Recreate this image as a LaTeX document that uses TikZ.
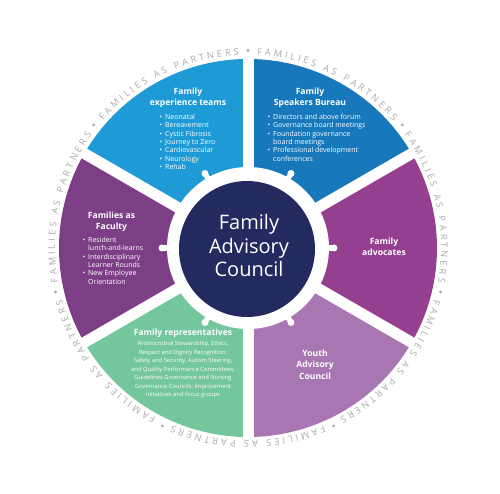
\documentclass[tikz,border=0pt]{standalone}
\usepackage{fontspec}
\setmainfont{Open Sans}
\usetikzlibrary{decorations.text}
\definecolor{expblue}{HTML}{1E9BD7}
\definecolor{spkblue}{HTML}{1878BC}
\definecolor{advpurple}{HTML}{953F91}
\definecolor{youthlilac}{HTML}{A776B3}
\definecolor{repgreen}{HTML}{74C69C}
\definecolor{facpurple}{HTML}{7C3F86}
\definecolor{councilnavy}{HTML}{232A5F}
\definecolor{ringgray}{HTML}{ABABAB}
\newcommand\ringfont{\fontsize{9.3}{10}\selectfont}
\newcommand\blt{\makebox[5.5pt][l]{\textbullet}}
\newcommand\bltgap{\hspace*{5.5pt}}
\tikzset{
  segtitle/.style={text=white,font=\bfseries\fontsize{8.6}{10.6}\selectfont,align=center,inner sep=0pt},
  seglist/.style={text=white,font=\fontsize{7}{8.3}\selectfont,align=left,anchor=north west,inner sep=0pt}
}
\begin{document}
\begin{tikzpicture}[x=1pt,y=1pt]
  \path[use as bounding box,fill=white] (-248,-246) rectangle (252,248);
  % wheel segments
  \foreach \s/\e/\col in {90/150/expblue, 30/90/spkblue, -30/30/advpurple, -90/-30/youthlilac, 210/270/repgreen, 150/210/facpurple} {
    \fill[\col] (0,0) -- (\s:189) arc[start angle=\s,end angle=\e,radius=189] -- cycle;
  }
  \foreach \a in {30,90,...,330} \draw[white,line width=11pt] (0,0) -- (\a:196);
  \fill[white] (0,0) circle[radius=81];
  \foreach \a in {0,60,...,300} {
    \fill[white,rotate=\a] (76,-2.6) rectangle (86,2.6);
    \fill[white] (\a:86) circle[radius=3.5];
  }
  \fill[councilnavy] (-1,-1) circle[radius=68];
  \node[text=white,font=\fontsize{20}{23.5}\selectfont,align=center] (council) at (1,2) {Family\\Advisory\\Council};
  % outer ring text
  \foreach \k in {0,...,6} {
    \pgfmathsetmacro\ta{90-\k*360/7}
    \pgfmathsetmacro\tb{\ta-360/7}
    \fill[ringgray] (\ta:197.5) circle[radius=1.6];
    \path[decorate,decoration={text along path,text color=ringgray,text={|\ringfont|FAMILIES AS PARTNERS},
      text align={fit to path,left indent=9pt,right indent=9pt}}] (\ta:193) arc[start angle=\ta,end angle=\tb,radius=193];
  }
  % segment texts
  \node[segtitle] (expTitle) at (-60,150) {Family\\experience teams};
  \node[seglist] (expList) at (-88.5,134) {\blt Neonatal\\ \blt Bereavement\\ \blt Cystic Fibrosis\\ \blt Journey to Zero\\ \blt Cardiovascular\\ \blt Neurology\\ \blt Rehab};
  \node[segtitle] (spkTitle) at (62,150) {Family\\Speakers Bureau};
  \node[seglist] (spkList) at (19.5,134) {\blt Directors and above forum\\ \blt Governance board meetings\\ \blt Foundation governance\\ \bltgap board meetings\\ \blt Professional development\\ \bltgap conferences};
  \node[segtitle] (facTitle) at (-136.5,26.5) {Families as\\Faculty};
  \node[seglist] (facList) at (-165.5,11) {\blt Resident\\ \bltgap lunch-and-learns\\ \blt Interdisciplinary\\ \bltgap Learner Rounds\\ \blt New Employee\\ \bltgap Orientation};
  \node[segtitle] (advTitle) at (136,1) {Family\\advocates};
  \node[segtitle,font=\bfseries\fontsize{8.6}{11.5}\selectfont] (youthTitle) at (67,-116.5) {Youth\\Advisory\\Council};
  \node[segtitle] (repTitle) at (-65,-85) {Family representatives};
  \node[text=white,font=\fontsize{5.8}{8.5}\selectfont,align=center,inner sep=0pt] (repText) at (-65,-121.5) {Antimicrobial Stewardship, Ethics,\\Respect and Dignity Recognition,\\Safety and Security, Autism Steering,\\and Quality Performance Committees;\\Guidelines Governance and Nursing\\Governance Councils; improvement\\initiatives and focus groups};
\end{tikzpicture}
\end{document}
